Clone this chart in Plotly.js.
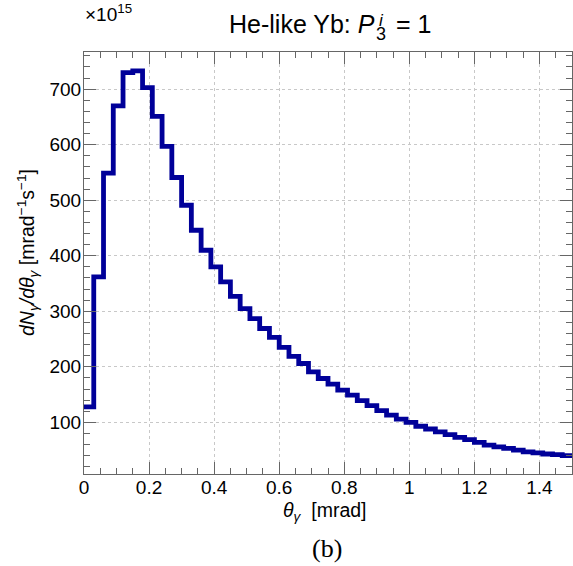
<!DOCTYPE html>
<html>
<head>
<meta charset="utf-8">
<script src="https://cdn.plot.ly/plotly-3.0.1.min.js"></script>
<style>html,body{margin:0;padding:0;background:#fff;}#chart{width:573px;height:566px;}</style>
</head>
<body>
<div id="chart"></div>
<script>
// Histogram: dN/dtheta (x10^15 mrad^-1 s^-1), 50 bins of width 0.03 mrad from 0 to 1.5
var binStart = 0.0;
var binWidth = 0.03;
var counts = [128, 362, 549, 670, 730, 733, 703, 651, 597, 541,
              491, 446, 410, 380, 353, 327, 305, 287, 269, 253,
              235, 219, 206, 191, 179, 169, 158, 149, 139, 130,
              121, 113, 106, 100, 93, 88, 83, 78, 73, 69,
              64, 59, 56, 53, 50, 47, 45, 43, 42, 40];
var xTickVals = [0, 0.2, 0.4, 0.6, 0.8, 1, 1.2, 1.4];
var xTickText = ["0", "0.2", "0.4", "0.6", "0.8", "1", "1.2", "1.4"];
var yTickVals = [100, 200, 300, 400, 500, 600, 700];
var yTickText = ["100", "200", "300", "400", "500", "600", "700"];

// step line through bin edges
var xs = [], ys = [];
for (var i = 0; i < counts.length; i++) {
  xs.push(binStart + i * binWidth);
  ys.push(counts[i]);
}
xs.push(binStart + counts.length * binWidth);
ys.push(counts[counts.length - 1]);

var L = 84, R = 1, T = 52, B = 92, W = 573, H = 566;
var pw = W - L - R, ph = H - T - B;
function px(x) { return (x - L) / pw; }
function py(y) { return (H - B - y) / ph; }

var font = 'Liberation Sans, Arial, sans-serif';
var frame = '#666666';

var axisCommon = {
  showline: true, linecolor: frame, linewidth: 1, mirror: 'allticks',
  ticks: 'inside', tickcolor: frame, tickwidth: 1,
  showgrid: true, gridcolor: '#c8c8c8', griddash: 'dot', gridwidth: 1,
  zeroline: false,
  tickfont: {family: font, size: 19, color: '#000'},
  tickmode: 'array'
};

var xaxis = Object.assign({}, axisCommon, {
  range: [0, 1.5], tickvals: xTickVals, ticktext: xTickText, ticklen: 12,
  ticklabelstandoff: -4,
  minor: {ticks: 'inside', dtick: 0.05, tick0: 0, ticklen: 6, tickcolor: frame, showgrid: false}
});
var yaxis = Object.assign({}, axisCommon, {
  range: [7, 767], tickvals: yTickVals, ticktext: yTickText, ticklen: 12,
  ticklabelstandoff: -2,
  minor: {ticks: 'inside', dtick: 20, tick0: 0, ticklen: 6, tickcolor: frame, showgrid: false}
});

var ann = [
  {text: 'He-like Yb: <i>P</i>', x: px(377), y: py(24), xanchor: 'right', yanchor: 'middle',
   font: {family: font, size: 25, color: '#000'}},
  {text: '<i>i</i>', x: px(377), y: py(20), xanchor: 'left', yanchor: 'middle',
   font: {family: font, size: 17, color: '#000'}},
  {text: '3', x: px(374), y: py(34), xanchor: 'left', yanchor: 'middle',
   font: {family: font, size: 18, color: '#000'}},
  {text: '= 1', x: px(394), y: py(24), xanchor: 'left', yanchor: 'middle',
   font: {family: font, size: 25, color: '#000'}},
  {text: '\u00d710<sup>15</sup>', x: px(83), y: py(13), xanchor: 'left', yanchor: 'middle',
   font: {family: font, size: 19, color: '#000'}},
  {text: '<i>dN</i><sub><i>\u03b3</i></sub><i>/d\u03b8</i><sub><i>\u03b3</i></sub> [mrad<sup>\u22121</sup>s<sup>\u22121</sup>]',
   x: px(27), y: py(253), xanchor: 'center', yanchor: 'middle', textangle: -90,
   font: {family: font, size: 19.5, color: '#000'}},
  {text: '<i>\u03b8</i><sub><i>\u03b3</i></sub>  [mrad]', x: px(325), y: py(512), xanchor: 'center', yanchor: 'middle',
   font: {family: font, size: 19.5, color: '#000'}},
  {text: '(b)', x: px(327), y: py(548), xanchor: 'center', yanchor: 'middle',
   font: {family: 'Liberation Serif, DejaVu Serif, serif', size: 26, color: '#000'}}
];
ann.forEach(function(a){ a.xref = 'paper'; a.yref = 'paper'; a.showarrow = false; });

Plotly.newPlot('chart', [{
  type: 'scatter', mode: 'lines', x: xs, y: ys,
  line: {shape: 'hv', color: '#000099', width: 4.8},
  hoverinfo: 'skip'
}], {
  width: W, height: H,
  margin: {l: L, r: R, t: T, b: B, pad: 0},
  paper_bgcolor: '#fff', plot_bgcolor: '#fff',
  showlegend: false,
  xaxis: xaxis, yaxis: yaxis,
  annotations: ann
}, {staticPlot: true, displayModeBar: false});
</script>
</body>
</html>
